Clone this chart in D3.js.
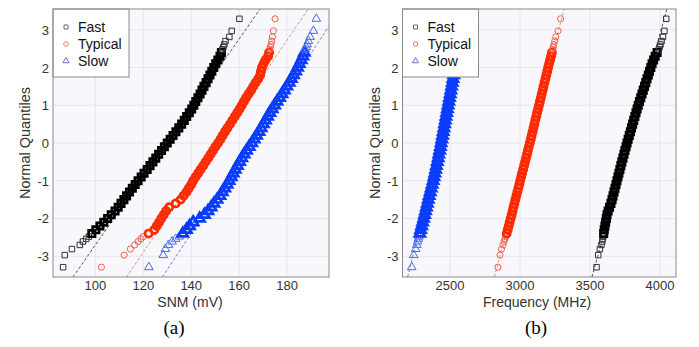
<!DOCTYPE html>
<html>
<head>
<meta charset="utf-8">
<script src="https://cdn.jsdelivr.net/npm/d3@7"></script>
<style>
  body { margin: 0; background: #fff; }
  svg { display: block; }
</style>
</head>
<body>
<div id="chart"></div>
<script>
// normal quantile levels shared by every series (about 1000 samples each)
var qLevels = [-3.29, -2.97, -2.81, -2.70, -2.61, -2.54, -2.48,
  -2.4, -2.3, -2.2, -2.1, -2.0, -1.9, -1.8, -1.7, -1.6, -1.5, -1.4, -1.3, -1.2, -1.1,
  -1.0, -0.9, -0.8, -0.7, -0.6, -0.5, -0.4, -0.3, -0.2, -0.1, 0.0,
  0.1, 0.2, 0.3, 0.4, 0.5, 0.6, 0.7, 0.8, 0.9, 1.0, 1.1, 1.2, 1.3, 1.4, 1.5,
  1.6, 1.7, 1.8, 1.9, 2.0, 2.1, 2.2, 2.3, 2.4,
  2.48, 2.54, 2.61, 2.70, 2.81, 2.97, 3.29];

// (a) SNM in mV
var snmFast = [86.5, 87.2, 90.2, 93.5, 94.8, 96.2, 97.3,
  98.5, 100.2, 101.9, 103.5, 105.1, 106.6, 108.2, 109.5, 110.7, 111.9, 113.0, 114.2, 115.4, 116.6,
  117.8, 119.1, 120.3, 121.6, 122.8, 124.0, 125.2, 126.4, 127.6, 128.8, 130.0,
  131.2, 132.4, 133.6, 134.8, 136.0, 137.1, 138.1, 139.2, 140.2, 141.1, 141.9, 142.8, 143.7, 144.5, 145.3,
  146.2, 147.0, 147.8, 148.6, 149.4, 150.2, 151.1, 152.0, 152.6,
  153.0, 153.4, 153.8, 154.3, 155.9, 156.9, 160.1];
var snmTypical = [102.5, 112.0, 114.6, 116.4, 117.8, 119.0, 120.0,
  122.2, 124.6, 125.6, 126.6, 127.5, 128.5, 129.5, 130.8, 133.5, 135.6, 136.8, 138.0, 139.0, 140.0,
  140.8, 141.8, 142.9, 143.9, 145.0, 146.0, 147.1, 148.1, 149.1, 150.1, 151.2,
  152.2, 153.1, 154.1, 155.1, 156.2, 157.2, 158.2, 159.2, 160.2, 161.1, 162.0, 162.9, 163.9, 165.0, 165.9,
  166.9, 168.0, 168.8, 169.1, 169.5, 170.2, 171.0, 172.1, 172.5,
  172.8, 173.0, 173.3, 173.6, 173.9, 174.3, 175.0];
var snmSlow = [122.3, 128.3, 129.2, 130.5, 132.0, 133.5, 135.0,
  136.5, 138.0, 139.3, 140.8, 143.5, 145.5, 147.0, 148.3, 149.5, 150.8, 152.0, 153.0, 154.0, 155.0,
  155.8, 156.7, 157.5, 158.4, 159.3, 160.2, 161.1, 162.1, 163.1, 164.2, 165.3,
  166.3, 167.3, 168.3, 169.2, 170.1, 171.0, 171.9, 172.8, 173.8, 174.8, 175.8, 176.9, 177.9, 178.9, 179.9,
  180.9, 181.8, 182.7, 183.6, 184.4, 185.1, 185.9, 186.6, 187.2,
  187.6, 188.0, 188.4, 188.9, 189.6, 191.0, 192.2];

// (b) frequency in MHz
var freqFast = [3547, 3559, 3571, 3582, 3588, 3592, 3595,
  3598, 3602, 3607, 3612, 3617, 3622, 3630, 3640, 3650, 3658, 3665, 3672, 3679, 3686,
  3693, 3700, 3707, 3714, 3721, 3728, 3736, 3743, 3750, 3758, 3765,
  3773, 3781, 3789, 3797, 3805, 3813, 3821, 3829, 3837, 3845, 3854, 3863, 3872, 3881, 3890,
  3899, 3908, 3917, 3926, 3935, 3944, 3955, 3966, 3980,
  3992, 3998, 4004, 4012, 4022, 4032, 4045];
var freqTypical = [2842, 2857, 2868, 2878, 2886, 2893, 2898,
  2905, 2912, 2919, 2926, 2933, 2940, 2947, 2953, 2960, 2967, 2974, 2981, 2988, 2995,
  3001, 3008, 3015, 3022, 3029, 3036, 3043, 3050, 3056, 3063, 3070,
  3077, 3083, 3090, 3096, 3103, 3109, 3116, 3122, 3129, 3136, 3142, 3149, 3155, 3162, 3168,
  3175, 3182, 3188, 3195, 3201, 3208, 3215, 3222, 3228,
  3233, 3237, 3242, 3248, 3256, 3272, 3290];
var freqSlow = [2226, 2240, 2254, 2262, 2268, 2273, 2278,
  2284, 2290, 2297, 2304, 2311, 2318, 2325, 2331, 2338, 2344, 2351, 2358, 2365, 2372,
  2379, 2385, 2391, 2397, 2403, 2409, 2415, 2420, 2426, 2431, 2436,
  2441, 2446, 2451, 2456, 2461, 2466, 2471, 2476, 2481, 2486, 2491, 2496, 2501, 2506, 2511,
  2516, 2521, 2526, 2531, 2536, 2541, 2546, 2552, 2558,
  2563, 2567, 2572, 2578, 2586, 2598, 2620];

// fitted reference lines: value = mean + sd * q  (Fast, Typical, Slow)
var snmLineMean = [129.7, 150.9, 165.1];
var snmLineSd = [11.0, 10.68, 10.47];
var freqLineMean = [3782, 3066, 2434];
var freqLineSd = [75.5, 70.2, 66.8];

var seriesNames = ["Fast", "Typical", "Slow"];
var snmTicks = [100, 120, 140, 160, 180];
var freqTicks = [2500, 3000, 3500, 4000];
var qTicks = [-3, -2, -1, 0, 1, 2, 3];

var W = 699, H = 347;
var pointColors = ["#000000", "#ff2a00", "#0a3cff"];
var tailColors = ["#333333", "#f0604a", "#4a6af0"];
var lineColors = ["#555555", "#f08a80", "#7a7ae6"];
var legendColors = ["#666666", "#e07a6a", "#6f6fcf"];
var symbols = [d3.symbolSquare, d3.symbolCircle, d3.symbolTriangle];
var symbolSizes = [30, 30, 32];
var font = "'Liberation Sans', Arial, sans-serif";

var svg = d3.select("#chart").append("svg")
  .attr("width", W).attr("height", H);
svg.append("rect").attr("width", W).attr("height", H).attr("fill", "#fff");

function isBody(j) { return Math.abs(qLevels[j]) <= 2.45; }

function drawPanel(cfg) {
  var x = d3.scaleLinear().domain(cfg.xDomain).range([cfg.left, cfg.right]);
  var y = d3.scaleLinear().domain([-3.55, 3.55]).range([cfg.bottom, cfg.top]);
  var g = svg.append("g");
  var clipId = "clip" + cfg.id;

  g.append("clipPath").attr("id", clipId).append("rect")
    .attr("x", cfg.left).attr("y", cfg.top)
    .attr("width", cfg.right - cfg.left).attr("height", cfg.bottom - cfg.top);

  g.append("rect")
    .attr("x", cfg.left).attr("y", cfg.top)
    .attr("width", cfg.right - cfg.left).attr("height", cfg.bottom - cfg.top)
    .attr("fill", "#f7f7fc");

  // grid
  g.selectAll(".gx").data(cfg.xTicks).enter().append("line")
    .attr("x1", function(d) { return x(d); }).attr("x2", function(d) { return x(d); })
    .attr("y1", cfg.top).attr("y2", cfg.bottom)
    .attr("stroke", "#e6e6ef").attr("stroke-width", 1);
  g.selectAll(".gy").data(qTicks).enter().append("line")
    .attr("y1", function(d) { return y(d); }).attr("y2", function(d) { return y(d); })
    .attr("x1", cfg.left).attr("x2", cfg.right)
    .attr("stroke", "#e6e6ef").attr("stroke-width", 1);

  var plot = g.append("g").attr("clip-path", "url(#" + clipId + ")");

  // reference lines
  cfg.lineMean.forEach(function(m, i) {
    var sd = cfg.lineSd[i];
    plot.append("line")
      .attr("x1", x(m + sd * -3.55)).attr("y1", y(-3.55))
      .attr("x2", x(m + sd * 3.55)).attr("y2", y(3.55))
      .attr("stroke", lineColors[i]).attr("stroke-width", 1)
      .attr("stroke-dasharray", "3,2");
  });

  // points: the crowded middle overprints into a solid band
  cfg.series.forEach(function(vals, i) {
    var symTail = d3.symbol().type(symbols[i]).size(symbolSizes[i]);
    var symBody = d3.symbol().type(symbols[i]).size(symbolSizes[i] * 1.35);
    plot.selectAll(".p" + i).data(vals).enter().append("path")
      .attr("d", function(d, j) { return isBody(j) ? symBody() : symTail(); })
      .attr("transform", function(d, j) { return "translate(" + x(d) + "," + y(qLevels[j]) + ")"; })
      .attr("fill", "none")
      .attr("stroke", function(d, j) { return isBody(j) ? pointColors[i] : tailColors[i]; })
      .attr("stroke-width", function(d, j) { return isBody(j) ? 2.7 : 1; });
  });

  // legend
  var lg = g.append("g");
  lg.append("rect")
    .attr("x", cfg.left).attr("y", cfg.top)
    .attr("width", 76).attr("height", 68)
    .attr("fill", "#fff").attr("stroke", "#8a8a8a").attr("stroke-width", 1);
  seriesNames.forEach(function(name, i) {
    var yy = cfg.top + 18 + i * 17;
    lg.append("path")
      .attr("d", d3.symbol().type(symbols[i]).size(16))
      .attr("transform", "translate(" + (cfg.left + 13) + "," + yy + ")")
      .attr("fill", "none").attr("stroke", legendColors[i]).attr("stroke-width", 1);
    lg.append("text")
      .attr("x", cfg.left + 25).attr("y", yy + 5)
      .attr("font-family", font).attr("font-size", 14).attr("fill", "#111")
      .text(name);
  });

  // border
  g.append("rect")
    .attr("x", cfg.left).attr("y", cfg.top)
    .attr("width", cfg.right - cfg.left).attr("height", cfg.bottom - cfg.top)
    .attr("fill", "none").attr("stroke", "#8a8a8a").attr("stroke-width", 1);

  // tick labels
  g.selectAll(".tx").data(cfg.xTicks).enter().append("text")
    .attr("x", function(d) { return x(d); }).attr("y", cfg.bottom + 13)
    .attr("text-anchor", "middle")
    .attr("font-family", font).attr("font-size", 13).attr("fill", "#333")
    .text(function(d) { return d; });
  g.selectAll(".ty").data(qTicks).enter().append("text")
    .attr("x", cfg.left - 4).attr("y", function(d) { return y(d) + 5; })
    .attr("text-anchor", "end")
    .attr("font-family", font).attr("font-size", 13).attr("fill", "#333")
    .text(function(d) { return d; });

  // axis titles
  g.append("text")
    .attr("x", cfg.titleX).attr("y", cfg.bottom + 30)
    .attr("text-anchor", "middle")
    .attr("font-family", font).attr("font-size", 14).attr("fill", "#333")
    .text(cfg.xTitle);
  g.append("text")
    .attr("transform", "translate(" + (cfg.left - 23) + "," + ((cfg.top + cfg.bottom) / 2) + ") rotate(-90)")
    .attr("text-anchor", "middle")
    .attr("font-family", font).attr("font-size", 14.5).attr("fill", "#333")
    .text("Normal Quantiles");

  // caption
  g.append("text")
    .attr("x", cfg.captionX).attr("y", 334)
    .attr("text-anchor", "middle")
    .attr("font-family", "'Liberation Serif', 'Times New Roman', serif")
    .attr("font-size", 19).attr("fill", "#000")
    .text(cfg.caption);
}

drawPanel({
  id: "a", left: 53, right: 329, top: 9, bottom: 277,
  xDomain: [82.3, 197.5], xTicks: snmTicks,
  series: [snmFast, snmTypical, snmSlow],
  lineMean: snmLineMean, lineSd: snmLineSd,
  xTitle: "SNM (mV)", titleX: 190, caption: "(a)", captionX: 174
});
drawPanel({
  id: "b", left: 402.5, right: 676, top: 9, bottom: 277,
  xDomain: [2160, 4115], xTicks: freqTicks,
  series: [freqFast, freqTypical, freqSlow],
  lineMean: freqLineMean, lineSd: freqLineSd,
  xTitle: "Frequency (MHz)", titleX: 537, caption: "(b)", captionX: 536
});
</script>
</body>
</html>
